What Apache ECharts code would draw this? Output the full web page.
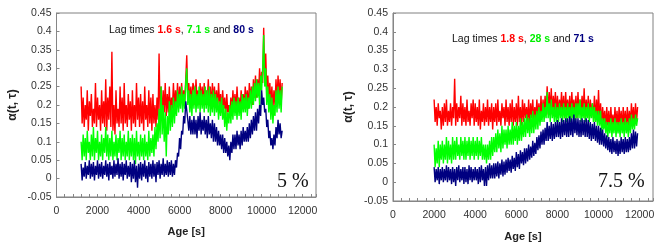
<!DOCTYPE html>
<html><head><meta charset="utf-8">
<script src="https://cdn.jsdelivr.net/npm/echarts@6/dist/echarts.min.js"></script>
<style>html,body{margin:0;padding:0;background:#fff}#c{width:660px;height:247px}</style>
</head><body><div id="c"></div>
<script>
// ---- Left panel (5 %) ----
const ageLeft = [1200,1250,1300,1350,1400,1450,1500,1550,1600,1650,1700,1750,1800,1850,1900,1950,2000,2050,2100,2150,2200,2250,2300,2350,2400,2450,2500,2550,2600,2650,2700,2750,2800,2850,2900,2950,3000,3050,3100,3150,3200,3250,3300,3350,3400,3450,3500,3550,3600,3650,3700,3750,3800,3850,3900,3950,4000,4050,4100,4150,4200,4250,4300,4350,4400,4450,4500,4550,4600,4650,4700,4750,4800,4850,4900,4950,5000,5050,5100,5150,5200,5250,5300,5350,5400,5450,5500,5550,5600,5650,5700,5750,5800,5850,5900,5950,6000,6050,6100,6150,6200,6250,6300,6350,6400,6450,6500,6550,6600,6650,6700,6750,6800,6850,6900,6950,7000,7050,7100,7150,7200,7250,7300,7350,7400,7450,7500,7550,7600,7650,7700,7750,7800,7850,7900,7950,8000,8050,8100,8150,8200,8250,8300,8350,8400,8450,8500,8550,8600,8650,8700,8750,8800,8850,8900,8950,9000,9050,9100,9150,9200,9250,9300,9350,9400,9450,9500,9550,9600,9650,9700,9750,9800,9850,9900,9950,10000,10050,10100,10150,10200,10250,10300,10350,10400,10450,10500,10550,10600,10650,10700,10750,10800,10850,10900,10950,11000];
const redLeft = [
0.25,0.15,0.22,0.14,0.2,0.16,0.24,0.13,0.21,0.17,
0.23,0.14,0.19,0.15,0.26,0.14,0.22,0.16,0.2,0.13,
0.24,0.15,0.21,0.14,0.27,0.13,0.22,0.16,0.25,0.14,
0.345,0.13,0.2,0.12,0.24,0.15,0.19,0.14,0.25,0.15,
0.22,0.13,0.26,0.15,0.2,0.14,0.23,0.16,0.21,0.13,
0.24,0.15,0.2,0.14,0.26,0.16,0.22,0.14,0.23,0.15,
0.21,0.13,0.25,0.16,0.2,0.14,0.24,0.15,0.22,0.13,
0.23,0.15,0.2,0.14,0.22,0.16,0.34,0.17,0.25,0.16,
0.24,0.18,0.26,0.17,0.23,0.18,0.25,0.17,0.22,0.19,
0.26,0.19,0.24,0.2,0.26,0.19,0.25,0.21,0.26,0.2,
0.24,0.21,0.27,0.335,0.22,0.26,0.21,0.25,0.2,0.26,
0.25,0.2,0.27,0.21,0.24,0.2,0.26,0.21,0.25,0.2,
0.26,0.2,0.24,0.21,0.27,0.2,0.25,0.19,0.26,0.21,
0.25,0.2,0.24,0.19,0.26,0.2,0.23,0.18,0.24,0.19,
0.22,0.17,0.23,0.18,0.2,0.17,0.22,0.18,0.24,0.19,
0.23,0.18,0.25,0.19,0.22,0.18,0.24,0.2,0.23,0.19,
0.25,0.2,0.24,0.19,0.26,0.21,0.25,0.2,0.27,0.22,
0.28,0.22,0.27,0.23,0.3,0.24,0.29,0.26,0.41,0.27,
0.34,0.23,0.28,0.22,0.26,0.2,0.25,0.19,0.24,0.2,
0.27,0.21,0.28,0.22,0.27,0.2,0.26];
const greenLeft = [
0.1,0.05,0.12,0.06,0.11,0.05,0.13,0.07,0.1,0.05,
0.12,0.06,0.14,0.05,0.11,0.07,0.13,0.05,0.1,0.06,
0.12,0.05,0.11,0.07,0.14,0.06,0.12,0.05,0.11,0.06,
0.13,0.05,0.1,0.06,0.12,0.05,0.11,0.07,0.13,0.05,
0.11,0.06,0.12,0.05,0.1,0.06,0.13,0.05,0.11,0.06,
0.12,0.05,0.11,0.04,0.13,0.06,0.1,0.05,0.12,0.06,
0.11,0.05,0.12,0.06,0.1,0.05,0.13,0.06,0.11,0.07,
0.12,0.06,0.14,0.08,0.15,0.1,0.19,0.11,0.25,0.12,
0.2,0.1,0.18,0.06,0.17,0.12,0.21,0.13,0.2,0.14,
0.22,0.15,0.21,0.17,0.24,0.18,0.23,0.19,0.25,0.18,
0.23,0.19,0.26,0.3,0.2,0.24,0.18,0.23,0.17,0.24,
0.19,0.25,0.18,0.23,0.19,0.25,0.18,0.24,0.19,0.23,
0.18,0.25,0.19,0.24,0.18,0.25,0.17,0.23,0.18,0.24,
0.17,0.23,0.18,0.22,0.16,0.21,0.17,0.22,0.16,0.2,
0.14,0.19,0.13,0.18,0.15,0.2,0.15,0.21,0.16,0.22,
0.17,0.21,0.16,0.22,0.17,0.21,0.16,0.23,0.18,0.22,
0.18,0.23,0.17,0.22,0.19,0.24,0.19,0.25,0.2,0.26,
0.21,0.27,0.22,0.26,0.2,0.28,0.24,0.3,0.39,0.25,
0.3,0.2,0.25,0.18,0.23,0.16,0.22,0.15,0.2,0.17,
0.24,0.18,0.25,0.19,0.24,0.18,0.25];
const blueLeft = [
0.04,-0.005,0.03,0.005,0.045,0,0.035,0.01,0.05,0,
0.04,0.005,0.045,-0.005,0.035,0.01,0.05,0,0.04,0.005,
0.045,0,0.035,0.01,0.05,0.005,0.04,-0.005,0.045,0.01,
0.035,0,0.05,0.005,0.04,0.01,0.055,0,0.04,0.005,
0.045,-0.005,0.04,0.01,0.05,0,0.035,0.005,0.045,-0.01,
0.04,0,0.05,-0.01,0.035,-0.025,0.04,0,0.045,-0.005,
0.04,0.005,0.05,0,0.035,-0.01,0.045,0.005,0.04,0,
0.05,0.005,0.04,-0.01,0.045,0.01,0.05,0,0.04,0.01,
0.055,0.005,0.04,0.01,0.05,0.005,0.045,0.01,0.05,0.005,
0.04,0.01,0.05,0.03,0.07,0.06,0.11,0.08,0.13,0.12,
0.17,0.15,0.21,0.215,0.16,0.13,0.17,0.12,0.16,0.12,
0.17,0.12,0.16,0.11,0.17,0.13,0.18,0.12,0.16,0.13,
0.17,0.12,0.16,0.11,0.17,0.12,0.15,0.11,0.16,0.1,
0.15,0.1,0.14,0.09,0.13,0.09,0.12,0.08,0.12,0.07,
0.11,0.07,0.1,0.06,0.09,0.05,0.1,0.07,0.12,0.08,
0.12,0.08,0.13,0.09,0.12,0.08,0.13,0.09,0.14,0.1,
0.13,0.1,0.14,0.1,0.15,0.11,0.16,0.12,0.17,0.13,
0.18,0.13,0.19,0.15,0.2,0.17,0.24,0.2,0.22,0.18,
0.19,0.14,0.16,0.11,0.13,0.09,0.11,0.08,0.12,0.09,
0.14,0.11,0.16,0.12,0.15,0.11,0.13];

// ---- Right panel (7.5 %) ----
const ageRight = [2000,2050,2100,2150,2200,2250,2300,2350,2400,2450,2500,2550,2600,2650,2700,2750,2800,2850,2900,2950,3000,3050,3100,3150,3200,3250,3300,3350,3400,3450,3500,3550,3600,3650,3700,3750,3800,3850,3900,3950,4000,4050,4100,4150,4200,4250,4300,4350,4400,4450,4500,4550,4600,4650,4700,4750,4800,4850,4900,4950,5000,5050,5100,5150,5200,5250,5300,5350,5400,5450,5500,5550,5600,5650,5700,5750,5800,5850,5900,5950,6000,6050,6100,6150,6200,6250,6300,6350,6400,6450,6500,6550,6600,6650,6700,6750,6800,6850,6900,6950,7000,7050,7100,7150,7200,7250,7300,7350,7400,7450,7500,7550,7600,7650,7700,7750,7800,7850,7900,7950,8000,8050,8100,8150,8200,8250,8300,8350,8400,8450,8500,8550,8600,8650,8700,8750,8800,8850,8900,8950,9000,9050,9100,9150,9200,9250,9300,9350,9400,9450,9500,9550,9600,9650,9700,9750,9800,9850,9900,9950,10000,10050,10100,10150,10200,10250,10300,10350,10400,10450,10500,10550,10600,10650,10700,10750,10800,10850,10900,10950,11000,11050,11100,11150,11200,11250,11300,11350,11400,11450,11500,11550,11600,11650,11700,11750,11800,11850,11900];
const redRight = [
0.22,0.16,0.2,0.15,0.21,0.17,0.19,0.14,0.2,0.15,
0.21,0.16,0.22,0.15,0.19,0.16,0.21,0.15,0.2,0.17,
0.275,0.15,0.21,0.16,0.2,0.17,0.23,0.15,0.21,0.16,
0.2,0.15,0.22,0.16,0.19,0.15,0.21,0.17,0.22,0.15,
0.21,0.16,0.2,0.15,0.22,0.14,0.19,0.16,0.21,0.15,
0.2,0.16,0.22,0.15,0.2,0.16,0.21,0.14,0.2,0.16,
0.21,0.15,0.22,0.16,0.19,0.15,0.21,0.17,0.2,0.15,
0.22,0.16,0.2,0.15,0.21,0.16,0.22,0.15,0.2,0.16,
0.21,0.15,0.23,0.16,0.2,0.15,0.22,0.16,0.21,0.17,
0.2,0.16,0.22,0.15,0.21,0.17,0.22,0.16,0.2,0.17,
0.22,0.17,0.21,0.16,0.23,0.17,0.22,0.18,0.23,0.18,
0.255,0.18,0.24,0.19,0.25,0.18,0.23,0.19,0.24,0.18,
0.23,0.18,0.22,0.19,0.24,0.18,0.23,0.17,0.24,0.19,
0.22,0.18,0.23,0.17,0.24,0.19,0.22,0.18,0.23,0.17,
0.24,0.18,0.22,0.19,0.23,0.18,0.25,0.17,0.22,0.18,
0.23,0.17,0.22,0.18,0.21,0.17,0.23,0.16,0.22,0.17,
0.245,0.16,0.21,0.15,0.2,0.16,0.19,0.14,0.2,0.15,
0.19,0.14,0.2,0.15,0.18,0.14,0.2,0.15,0.19,0.14,
0.2,0.15,0.19,0.14,0.2,0.15,0.19,0.14,0.2,0.15,
0.19,0.15,0.21,0.16,0.2,0.15,0.21,0.16,0.2];
const greenRight = [
0.1,0.04,0.09,0.05,0.11,0.04,0.1,0.06,0.11,0.05,
0.1,0.06,0.12,0.05,0.11,0.06,0.1,0.05,0.12,0.06,
0.11,0.06,0.12,0.07,0.1,0.06,0.12,0.07,0.11,0.06,
0.12,0.06,0.11,0.07,0.12,0.06,0.11,0.07,0.12,0.06,
0.11,0.07,0.12,0.06,0.11,0.07,0.12,0.06,0.1,0.06,
0.1,0.05,0.1,0.06,0.11,0.06,0.12,0.07,0.12,0.08,
0.13,0.08,0.14,0.09,0.13,0.08,0.15,0.09,0.14,0.1,
0.14,0.09,0.15,0.1,0.14,0.1,0.16,0.1,0.15,0.11,
0.16,0.1,0.15,0.11,0.17,0.11,0.16,0.12,0.17,0.12,
0.18,0.13,0.17,0.12,0.18,0.13,0.19,0.13,0.18,0.14,
0.19,0.14,0.2,0.15,0.19,0.16,0.21,0.16,0.2,0.17,
0.24,0.17,0.21,0.16,0.22,0.17,0.2,0.16,0.21,0.16,
0.2,0.16,0.21,0.17,0.2,0.16,0.21,0.17,0.2,0.16,
0.21,0.17,0.2,0.16,0.21,0.17,0.2,0.16,0.21,0.17,
0.21,0.17,0.22,0.16,0.2,0.17,0.21,0.16,0.2,0.17,
0.21,0.16,0.2,0.17,0.21,0.16,0.2,0.16,0.19,0.15,
0.19,0.15,0.19,0.13,0.17,0.14,0.17,0.13,0.16,0.12,
0.16,0.13,0.17,0.12,0.16,0.13,0.17,0.12,0.16,0.13,
0.16,0.12,0.17,0.13,0.16,0.12,0.17,0.13,0.16,0.12,
0.17,0.13,0.18,0.14,0.17,0.14,0.18,0.15,0.17];
const blueRight = [
0.04,0,0.035,0.005,0.04,-0.005,0.035,0.005,0.04,0,
0.035,0.005,0.045,0,0.04,0.005,0.035,-0.005,0.04,0,
0.035,-0.01,0.04,0.005,0.045,0,0.035,0.005,0.04,-0.005,
0.04,0,0.035,-0.005,0.045,0.005,0.04,0,0.035,0.005,
0.04,0.005,0.035,-0.005,0.04,0,0.045,0.005,0.035,-0.01,
0.04,-0.01,0.045,0.005,0.05,0.01,0.045,0.01,0.05,0.01,
0.05,0.015,0.055,0.01,0.05,0.02,0.06,0.015,0.055,0.02,
0.06,0.025,0.065,0.03,0.06,0.025,0.07,0.035,0.065,0.03,
0.08,0.04,0.075,0.035,0.085,0.05,0.08,0.045,0.09,0.05,
0.09,0.055,0.1,0.06,0.095,0.065,0.11,0.07,0.105,0.075,
0.12,0.085,0.125,0.09,0.135,0.1,0.14,0.1,0.145,0.11,
0.16,0.11,0.15,0.115,0.16,0.11,0.155,0.115,0.16,0.12,
0.165,0.12,0.16,0.115,0.17,0.12,0.165,0.125,0.17,0.12,
0.17,0.12,0.175,0.125,0.17,0.12,0.18,0.13,0.17,0.125,
0.17,0.12,0.165,0.12,0.17,0.125,0.165,0.12,0.17,0.12,
0.165,0.115,0.16,0.11,0.155,0.115,0.16,0.11,0.15,0.105,
0.15,0.1,0.145,0.1,0.14,0.095,0.13,0.09,0.125,0.085,
0.12,0.08,0.115,0.075,0.12,0.08,0.11,0.075,0.115,0.07,
0.11,0.075,0.12,0.08,0.115,0.075,0.12,0.08,0.115,0.08,
0.12,0.085,0.13,0.09,0.14,0.09,0.135,0.095,0.13];

const yTicks = [-0.05,0,0.05,0.1,0.15,0.2,0.25,0.3,0.35,0.4,0.45];
const xTickStep = 2000;

const pair = (xs, ys) => xs.map((x, i) => [x, ys[i]]);
const FONT = 'Liberation Sans, Arial, sans-serif';
const axisGray = '#868686';

function xAxisCfg(idx, gap) {
  return {
    type: 'value', gridIndex: idx, min: 0, max: 12650, interval: xTickStep,
    name: 'Age [s]', nameLocation: 'middle', nameGap: gap,
    nameTextStyle: {fontFamily: FONT, fontWeight: 'bold', fontSize: 11, color: '#222'},
    axisLine: {show: true, onZero: false, lineStyle: {color: axisGray, width: 1}},
    axisTick: {show: true, inside: true, length: 3, lineStyle: {color: axisGray}},
    minorTick: {show: true, splitNumber: 5, length: 3, lineStyle: {color: axisGray}},
    splitLine: {show: false},
    axisLabel: {margin: 9, fontFamily: FONT, fontSize: 10.5, color: '#333',
      formatter: v => (v % xTickStep === 0 ? String(v) : ''), showMaxLabel: false}
  };
}
function yAxisCfg(idx) {
  return {
    type: 'value', gridIndex: idx, min: yTicks[0], max: yTicks[yTicks.length-1], interval: 0.05,
    name: 'α(t, τ)', nameLocation: 'middle', nameGap: 38, nameRotate: 90,
    nameTextStyle: {fontFamily: FONT, fontWeight: 'bold', fontSize: 12, color: '#222'},
    axisLine: {show: true, onZero: false, lineStyle: {color: axisGray, width: 1}},
    axisTick: {show: true, inside: true, length: 3, lineStyle: {color: axisGray}},
    splitLine: {show: false},
    axisLabel: {margin: 5, fontFamily: FONT, fontSize: 10.5, color: '#333',
      formatter: v => String(Math.round(v * 100) / 100)}
  };
}
function line(name, xi, data, color) {
  return {name, type: 'line', xAxisIndex: xi, yAxisIndex: xi, data, showSymbol: false,
    symbol: 'none', lineStyle: {color, width: 1.4}, itemStyle: {color}, animation: false, silent: true};
}
const richSet = {
  r: {color: '#ff0000', fontWeight: 'bold', fontSize: 10.5, fontFamily: FONT},
  g: {color: '#00ee00', fontWeight: 'bold', fontSize: 10.5, fontFamily: FONT},
  b: {color: '#000080', fontWeight: 'bold', fontSize: 10.5, fontFamily: FONT}
};

const chart = echarts.init(document.getElementById('c'), null, {renderer: 'canvas'});
chart.setOption({
  backgroundColor: '#fff',
  animation: false,
  grid: [
    {left: 56.5, top: 13, width: 259.5, height: 184, show: true, borderColor: '#808080', borderWidth: 1, backgroundColor: 'transparent'},
    {left: 393, top: 13, width: 260, height: 189, show: true, borderColor: '#808080', borderWidth: 1, backgroundColor: 'transparent'}
  ],
  xAxis: [xAxisCfg(0, 29), xAxisCfg(1, 30)],
  yAxis: [yAxisCfg(0), yAxisCfg(1)],
  title: [
    {left: 109, top: 25, padding: 0, text: 'Lag times {r|1.6 s}, {g|7.1 s} and {b|80 s}',
      textStyle: {fontFamily: FONT, fontSize: 10.5, fontWeight: 'normal', color: '#111', rich: richSet}},
    {left: 452, top: 34, padding: 0, text: 'Lag times {r|1.8 s}, {g|28 s} and {b|71 s}',
      textStyle: {fontFamily: FONT, fontSize: 10.5, fontWeight: 'normal', color: '#111', rich: richSet}},
    {left: 277, top: 172, padding: 0, text: '5 %', textStyle: {fontFamily: 'Liberation Serif, Times New Roman, serif', fontSize: 20, fontWeight: 'normal', color: '#111'}},
    {left: 598, top: 172, padding: 0, text: '7.5 %', textStyle: {fontFamily: 'Liberation Serif, Times New Roman, serif', fontSize: 20, fontWeight: 'normal', color: '#111'}}
  ],
  series: [
    line('red5', 0, pair(ageLeft, redLeft), '#ff0000'),
    line('green5', 0, pair(ageLeft, greenLeft), '#00ff00'),
    line('blue5', 0, pair(ageLeft, blueLeft), '#000080'),
    line('red75', 1, pair(ageRight, redRight), '#ff0000'),
    line('green75', 1, pair(ageRight, greenRight), '#00ff00'),
    line('blue75', 1, pair(ageRight, blueRight), '#000080')
  ]
});
</script>
</body></html>
